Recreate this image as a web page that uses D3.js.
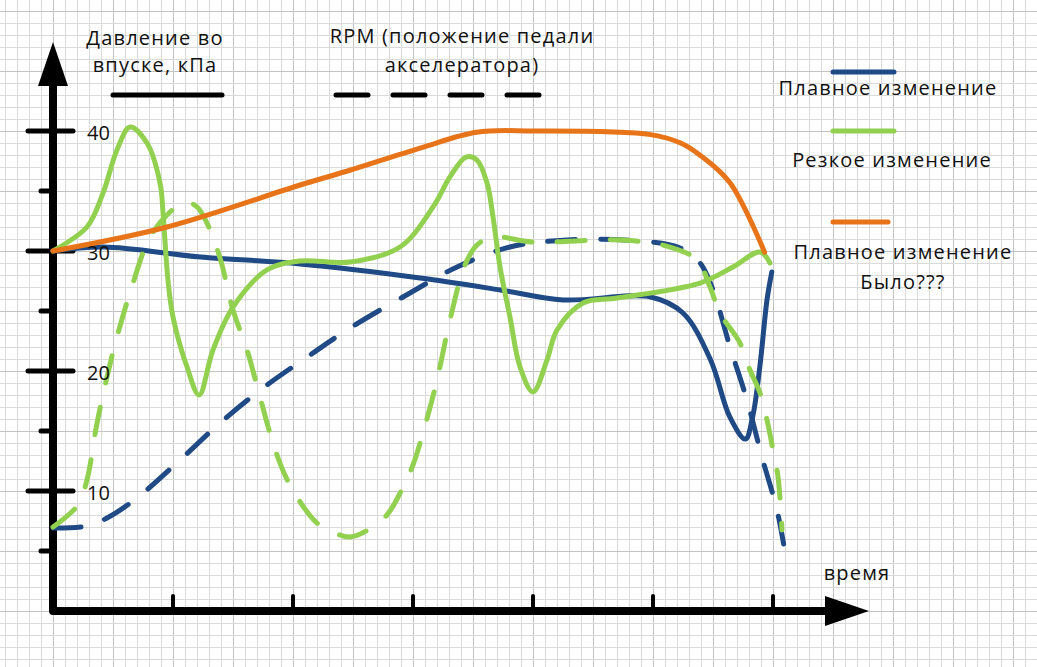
<!DOCTYPE html>
<html>
<head>
<meta charset="utf-8">
<script src="https://cdn.jsdelivr.net/npm/d3@7"></script>
<style>
  body { margin: 0; background: #fff; }
  svg text { font-family: "Open Sans", sans-serif; fill: #111; }
</style>
</head>
<body>
<svg id="chart"></svg>
<script>
// ticks
var yMajorTicks = [10, 20, 30, 40];
var yMinorTicks = [5, 15, 25, 35];
var xTicks = [1, 2, 3, 4, 5, 6];

// [time, value] pairs
var pressureSmooth = [[0, 30], [0.42, 30.33], [1.23, 29.5], [2.06, 28.92], [3.06, 27.75], [3.73, 26.75],
    [4.25, 25.92], [4.98, 26.17], [5.25, 24.83], [5.48, 20.92], [5.64, 16.17], [5.77, 14.33],
    [5.83, 16.17], [5.89, 20.33], [5.95, 25.92], [5.99, 28.25]];
var pressureSharp = [[0, 30], [0.283, 32], [0.417, 34.83], [0.533, 38.42], [0.642, 40.33], [0.783, 39],
    [0.892, 35.67], [0.917, 33.17], [0.958, 27.58], [1.0, 24.5], [1.117, 20.33], [1.217, 18],
    [1.333, 21.75], [1.5, 25.33], [1.783, 28.42], [2.058, 29.17], [2.475, 29.08], [2.892, 30.33],
    [3.167, 33.67], [3.308, 36.17], [3.442, 37.83], [3.533, 37.58], [3.617, 35.67], [3.667, 32.83],
    [3.725, 28.67], [3.808, 24.5], [3.892, 20.33], [4.0, 18.25], [4.117, 20.92], [4.2, 23.42],
    [4.417, 25.67], [4.7, 26.08], [5.392, 27.33], [5.667, 28.67], [5.892, 29.92], [5.975, 29]];
var pressureWas = [[0, 30], [0.95, 32], [2.06, 35.5], [2.48, 36.75], [3.06, 38.58], [3.53, 39.9],
    [4.0, 40], [4.98, 39.7], [5.23, 39], [5.39, 38], [5.64, 35.7], [5.93, 29.9]];
var rpmSmooth = [[0, 6.92], [0.283, 7.08], [0.45, 7.75], [0.7, 9.42], [1.058, 12.58], [1.392, 15.67],
    [1.75, 18.58], [2.142, 21.33], [2.475, 23.58], [2.975, 26.5], [3.367, 28.67], [3.808, 30.33],
    [4.283, 30.92], [4.892, 30.83], [5.225, 30.25], [5.392, 29], [5.5, 26.75], [5.642, 22],
    [5.783, 17.58], [5.908, 12.83], [6.033, 8.42], [6.1, 4.92]];
var rpmSharp = [[0, 7], [0.208, 8.83], [0.283, 10.92], [0.367, 15.67], [0.45, 19.5], [0.533, 22.83],
    [0.667, 27.33], [0.808, 31.17], [0.975, 33.25], [1.1, 34.08], [1.2, 33.67], [1.283, 32.33],
    [1.392, 29.42], [1.5, 25.08], [1.617, 21.75], [1.725, 17.83], [1.833, 14], [1.933, 11.33],
    [2.033, 9.5], [2.2, 7.33], [2.367, 6.42], [2.475, 6.17], [2.625, 6.75], [2.783, 8],
    [2.917, 10.33], [3.0, 12.17], [3.083, 14.83], [3.2, 19.25], [3.308, 24.25], [3.433, 28.83],
    [3.533, 30.5], [3.667, 31.17], [4.0, 30.75], [4.75, 30.92], [5.142, 30.33], [5.367, 29.25],
    [5.475, 27], [5.558, 24.83], [5.725, 22.33], [5.808, 20.08], [5.892, 18.17], [5.95, 15.92],
    [6.0, 13.42], [6.042, 11.17], [6.075, 6.75]];

var width = 1037, height = 667;
var blue = "#1f4a85", green = "#92d050", orange = "#e8741a";

var svg = d3.select("#chart")
    .attr("width", width)
    .attr("height", height);

svg.append("rect").attr("width", width).attr("height", height).attr("fill", "#fff");

// one grid cell = 0.1 time units and 1 value unit (12px)
var xScale = d3.scaleLinear().domain([0, 6]).range([53, 773]);
var yScale = d3.scaleLinear().domain([0, 40]).range([611, 131]);

//graph paper
var grid = svg.append("g").attr("shape-rendering", "crispEdges");
grid.selectAll("line.gx")
    .data(d3.range(-4, 83))
    .enter().append("line")
    .attr("x1", function(k) { return Math.round(xScale(k / 10)) + 0.5; })
    .attr("x2", function(k) { return Math.round(xScale(k / 10)) + 0.5; })
    .attr("y1", 0).attr("y2", height)
    .attr("stroke", function(k) { return k % 5 === 0 ? "#c4c4c4" : "#dadada"; });
grid.selectAll("line.gy")
    .data(d3.range(-4, 52))
    .enter().append("line")
    .attr("y1", function(v) { return Math.round(yScale(v)) + 0.5; })
    .attr("y2", function(v) { return Math.round(yScale(v)) + 0.5; })
    .attr("x1", 0).attr("x2", width)
    .attr("stroke", function(v) { return v % 5 === 0 ? "#c4c4c4" : "#dadada"; });

//axes with arrows
var x0 = xScale(0), y0 = yScale(0);
svg.append("path")
    .attr("d", "M" + x0 + ",86 L" + x0 + "," + y0 + " L826," + y0)
    .attr("fill", "none").attr("stroke", "#000").attr("stroke-width", 8)
    .attr("stroke-linejoin", "round").attr("stroke-linecap", "round");
svg.append("path")
    .attr("d", "M" + x0 + ",42 L" + (x0 + 15) + ",86 L" + (x0 - 15) + ",86 Z")
    .attr("fill", "#000");
svg.append("path")
    .attr("d", "M869," + y0 + " L825," + (y0 - 15) + " L825," + (y0 + 15) + " Z")
    .attr("fill", "#000");

svg.selectAll("line.ymaj")
    .data(yMajorTicks).enter().append("line")
    .attr("x1", x0 - 25).attr("x2", x0 + 20)
    .attr("y1", function(d) { return yScale(d); })
    .attr("y2", function(d) { return yScale(d); })
    .attr("stroke", "#000").attr("stroke-width", 5).attr("stroke-linecap", "round");
svg.selectAll("line.ymin")
    .data(yMinorTicks).enter().append("line")
    .attr("x1", x0 - 12).attr("x2", x0)
    .attr("y1", function(d) { return yScale(d); })
    .attr("y2", function(d) { return yScale(d); })
    .attr("stroke", "#000").attr("stroke-width", 5).attr("stroke-linecap", "round");
svg.selectAll("line.xt")
    .data(xTicks).enter().append("line")
    .attr("x1", function(d) { return xScale(d); })
    .attr("x2", function(d) { return xScale(d); })
    .attr("y1", y0 - 15).attr("y2", y0)
    .attr("stroke", "#000").attr("stroke-width", 4).attr("stroke-linecap", "round");

//curves
var line = d3.line()
    .x(function(d) { return xScale(d[0]); })
    .y(function(d) { return yScale(d[1]); })
    .curve(d3.curveCatmullRom.alpha(0.5));

var series = [
    {data: rpmSmooth, color: blue, dash: "28,25"},
    {data: pressureSmooth, color: blue, dash: null},
    {data: rpmSharp, color: green, dash: "28,25"},
    {data: pressureSharp, color: green, dash: null},
    {data: pressureWas, color: orange, dash: null}
];
svg.selectAll("path.curve")
    .data(series).enter().append("path")
    .attr("class", "curve")
    .attr("d", function(s) { return line(s.data); })
    .attr("fill", "none")
    .attr("stroke", function(s) { return s.color; })
    .attr("stroke-width", 5)
    .attr("stroke-linecap", "round")
    .attr("stroke-linejoin", "round")
    .attr("stroke-dasharray", function(s) { return s.dash; });

//y tick labels
svg.selectAll("text.ylab")
    .data(yMajorTicks).enter().append("text")
    .attr("x", 87)
    .attr("y", function(d) { return yScale(d) + 9; })
    .attr("font-size", 20)
    .text(function(d) { return d; });

//legend
function label(txt, x, y) {
    svg.append("text")
        .attr("x", x).attr("y", y)
        .attr("text-anchor", "middle")
        .attr("font-size", 20)
        .attr("letter-spacing", 1.2)
        .text(txt);
}
label("Давление во", 155, 45);
label("впуске, кПа", 155, 72);
label("RPM (положение педали", 462, 43);
label("акселератора)", 462, 72);
label("Плавное изменение", 888, 95);
label("Резкое изменение", 892, 167);
label("Плавное изменение", 903, 259);
label("Было???", 903, 289);
label("время", 857, 580);

function key(x1, x2, y, color, dash) {
    svg.append("line")
        .attr("x1", x1).attr("x2", x2).attr("y1", y).attr("y2", y)
        .attr("stroke", color).attr("stroke-width", 5)
        .attr("stroke-linecap", "round")
        .attr("stroke-dasharray", dash);
}
key(113, 222, 95, "#000", null);
key(336, 541, 95, "#000", "32,25");
key(833, 894, 72, blue, null);
key(833, 894, 131, green, null);
key(833, 888, 222, orange, null);
</script>
</body>
</html>
